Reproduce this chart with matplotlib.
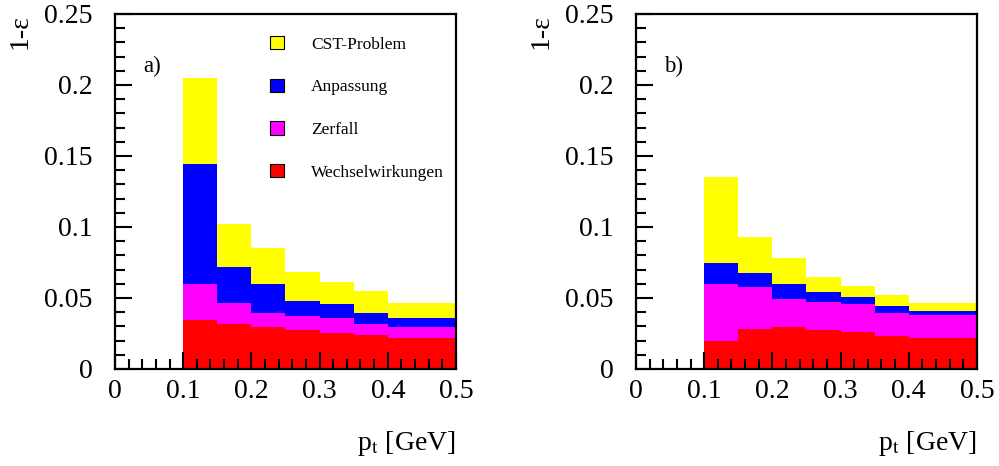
import numpy as np
import matplotlib
matplotlib.use('Agg')
import matplotlib.pyplot as plt
from matplotlib.patches import Patch
from matplotlib.ticker import MultipleLocator

plt.rcParams['font.family'] = ['Liberation Serif', 'DejaVu Serif']
plt.rcParams['mathtext.fontset'] = 'stix'

# bin edges in p_t [GeV]
bin_lo = [0.10, 0.15, 0.20, 0.25, 0.30, 0.35, 0.40, 0.45]
bin_w = 0.05

labels = ['Wechselwirkungen', 'Zerfall', 'Anpassung', 'CST-Problem']
colors = ['#ff0000', '#ff00ff', '#0000ff', '#ffff00']

# cumulative tops (red, +magenta, +blue, +yellow)
a_red = [0.0345, 0.0317, 0.0293, 0.0275, 0.0254, 0.0237, 0.0218, 0.0218]
a_mag = [0.0599, 0.0462, 0.0392, 0.0373, 0.0357, 0.0317, 0.0293, 0.0293]
a_blu = [0.1444, 0.0718, 0.0599, 0.0479, 0.0458, 0.0392, 0.0359, 0.0359]
a_yel = [0.2049, 0.1021, 0.0852, 0.0683, 0.0613, 0.0552, 0.0462, 0.0462]

b_red = [0.0197, 0.0279, 0.0293, 0.0275, 0.0261, 0.0232, 0.0218, 0.0218]
b_mag = [0.0599, 0.0580, 0.0493, 0.0472, 0.0458, 0.0392, 0.0380, 0.0380]
b_blu = [0.0746, 0.0678, 0.0599, 0.0542, 0.0507, 0.0444, 0.0408, 0.0408]
b_yel = [0.1352, 0.0932, 0.0782, 0.0650, 0.0585, 0.0521, 0.0462, 0.0462]


def draw_panel(ax, tops, tag, legend=False):
    prev = np.zeros(len(bin_lo))
    for top, col in zip(tops, colors):
        top = np.array(top)
        ax.bar(bin_lo, top - prev, width=bin_w, bottom=prev, align='edge',
               color=col, linewidth=0)
        prev = top
    ax.set_xlim(0, 0.5)
    ax.set_ylim(0, 0.25)
    ax.xaxis.set_major_locator(MultipleLocator(0.1))
    ax.xaxis.set_minor_locator(MultipleLocator(0.02))
    ax.yaxis.set_major_locator(MultipleLocator(0.05))
    ax.yaxis.set_minor_locator(MultipleLocator(0.01))
    ax.set_xticks([0, 0.1, 0.2, 0.3, 0.4, 0.5], ['0', '0.1', '0.2', '0.3', '0.4', '0.5'])
    ax.set_yticks([0, 0.05, 0.1, 0.15, 0.2, 0.25], ['0', '0.05', '0.1', '0.15', '0.2', '0.25'])
    ax.tick_params(which='both', direction='in', top=False, right=False, width=1.5)
    ax.tick_params(which='major', length=12.5, labelsize=20)
    ax.tick_params(which='minor', length=7)
    ax.tick_params(axis='x', which='major', pad=7)
    ax.tick_params(axis='y', which='major', pad=16)
    for s in ax.spines.values():
        s.set_linewidth(1.6)
    ax.text(0.083, 0.853, tag, transform=ax.transAxes, fontsize=16.5, va='center', ha='left')
    ax.text(-0.279, 1.0, '1-ε', transform=ax.transAxes, rotation=90,
            fontsize=20, ha='center', va='top')
    ax.text(1.0, -0.21, r'p$_\mathrm{t}$ [GeV]', transform=ax.transAxes,
            fontsize=20, ha='right', va='center')
    if legend:
        handles = [Patch(facecolor=c, edgecolor='black', linewidth=0.8) for c in colors[::-1]]
        ax.legend(handles, labels[::-1], loc='upper left', bbox_to_anchor=(0.455, 0.938),
                  frameon=False, fontsize=12.5, handlelength=0.8, handleheight=0.8,
                  handletextpad=1.55, labelspacing=1.5, borderpad=0, borderaxespad=0)


fig = plt.figure(figsize=(9.99, 4.66), dpi=100)
ax_a = fig.add_axes([0.1151, 0.2082, 0.3413, 0.7618])
ax_b = fig.add_axes([0.6366, 0.2082, 0.3413, 0.7618])

draw_panel(ax_a, [a_red, a_mag, a_blu, a_yel], 'a)', legend=True)
draw_panel(ax_b, [b_red, b_mag, b_blu, b_yel], 'b)')

fig.savefig('out.png', dpi=100)
